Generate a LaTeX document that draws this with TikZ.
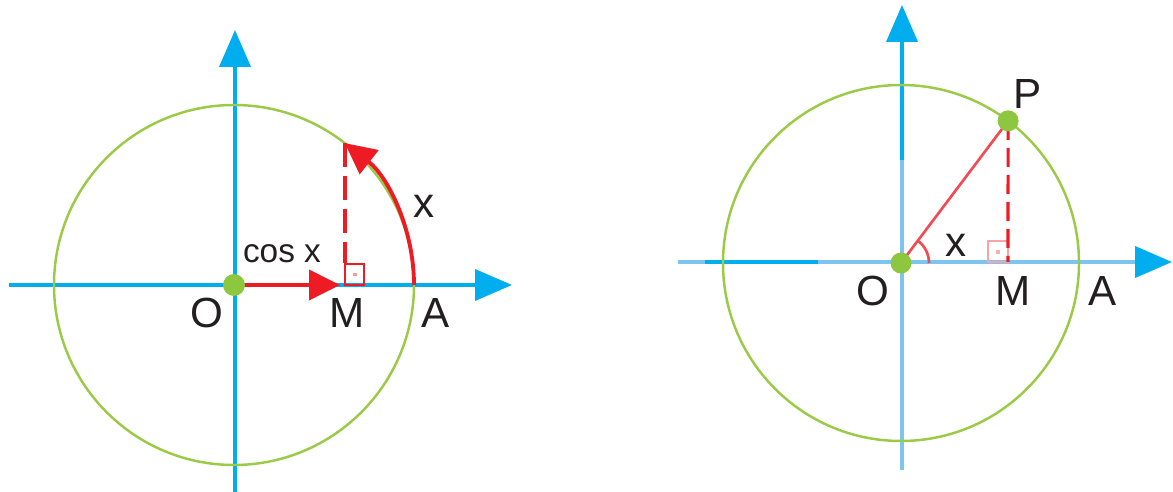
\documentclass[tikz,border=0pt]{standalone}
\usepackage{fontspec}
\setmainfont{Liberation Sans}
\usetikzlibrary{arrows.meta}
\definecolor{sumbu}{RGB}{0,174,239}
\definecolor{sumbumuda}{RGB}{125,196,240}
\definecolor{lingkaran}{RGB}{155,202,70}
\definecolor{titik}{RGB}{141,198,63}
\definecolor{merah}{RGB}{237,28,36}
\definecolor{merahmuda}{RGB}{240,75,85}
\definecolor{tinta}{RGB}{35,31,32}

\begin{document}
\begin{tikzpicture}[x=0.02cm, y=-0.02cm,
        axis/.style={line width=2.2pt, draw=sumbu,
                     -{Triangle[length=0.74cm, width=0.62cm, color=sumbu]}},
        ring/.style={draw=lingkaran, line width=1.4pt},
        dot/.style={circle, fill=titik, inner sep=0pt, minimum size=0.44cm},
        vec/.style={draw=merah, line width=2.2pt, -{Triangle[length=0.62cm, width=0.6cm]}},
        drop/.style={draw=merah, line width=2.2pt},
        lbl/.style={font=\fontsize{24}{24}\selectfont, text=tinta, inner sep=0pt}
    ]
    \useasboundingbox (0,0) rectangle (1173,492);

    % left circle: cos x
    \coordinate (O1) at (234,285);
    \coordinate (M1) at (345,285);
    \coordinate (A1) at (414,285);
    \coordinate (P1) at ([shift={(-52:180)}]O1);
    \coordinate (xa1) at (9,285);
    \coordinate (xb1) at (512,285);
    \coordinate (ya1) at (235,492);
    \coordinate (yb1) at (235,30);
    \draw[axis] (xa1) -- (xb1);
    \draw[axis] (ya1) -- (yb1);
    \draw[ring] (O1) circle[radius=180];
    \draw[drop, dash pattern=on 0.48cm off 0.18cm] (M1 |- P1) -- ([shift={(0,-22)}]M1);
    \draw[drop, line width=1.6pt] (M1) rectangle ++(19,-21);
    \fill[merah!45] ([shift={(8,-12)}]M1) rectangle ++(4,3);
    \draw[vec] (A1) arc[start angle=0, end angle=-52, radius=180];
    \draw[vec, shorten >=0.1cm] (O1) -- (M1);
    \node[dot] (o1) at (O1) {};
    \node[lbl] (lO1) at (207,313) {O};
    \node[lbl] (lM1) at (347,313) {M};
    \node[lbl] (lA1) at (436,313) {A};
    \node[lbl, font=\fontsize{19}{19}\selectfont] (lcos) at (282,254) {cos x};
    \node[lbl] (lx1) at (424,206) {x};

    % right circle: triangle OMP
    \coordinate (O2) at (901,263);
    \coordinate (M2) at (1008,262);
    \coordinate (P2) at ([shift={(-53:178)}]O2);
    \coordinate (xa2) at (678,262);
    \coordinate (xb2) at (1172,262);
    \coordinate (ya2) at (902,470);
    \coordinate (yb2) at (902,5);
    \draw[axis, draw=sumbumuda] (xa2) -- (xb2);
    \draw[axis, draw=sumbumuda] (ya2) -- (yb2);
    \draw[draw=sumbu, line width=2.2pt] (705,262) -- (818,262);
    \draw[draw=sumbu, line width=2.2pt] (902,42) -- (902,160);
    \draw[ring] (O2) circle[radius=178];
    \draw[drop, line width=1.6pt, draw=merah!40] (M2) rectangle ++(-20,-21);
    \fill[merah!35] ([shift={(-12,-12)}]M2) rectangle ++(4,4);
    \draw[drop, line width=1.8pt, dash pattern=on 0.38cm off 0.16cm] (P2) -- (M2);
    \draw[draw=merahmuda, line width=1.5pt] (O2) -- (P2);
    \draw[draw=merahmuda, line width=1.5pt] ([shift={(28,0)}]O2)
        arc[start angle=0, end angle=-53, radius=28];
    \node[dot, minimum size=0.42cm] (o2) at (O2) {};
    \node[dot, minimum size=0.42cm] (p2) at (P2) {};
    \node[lbl] (lP2) at (1028,94) {P};
    \node[lbl] (lx2) at (956,245) {x};
    \node[lbl] (lO2) at (873,291) {O};
    \node[lbl] (lM2) at (1013,291) {M};
    \node[lbl] (lA2) at (1103,291) {A};
\end{tikzpicture}
\end{document}
